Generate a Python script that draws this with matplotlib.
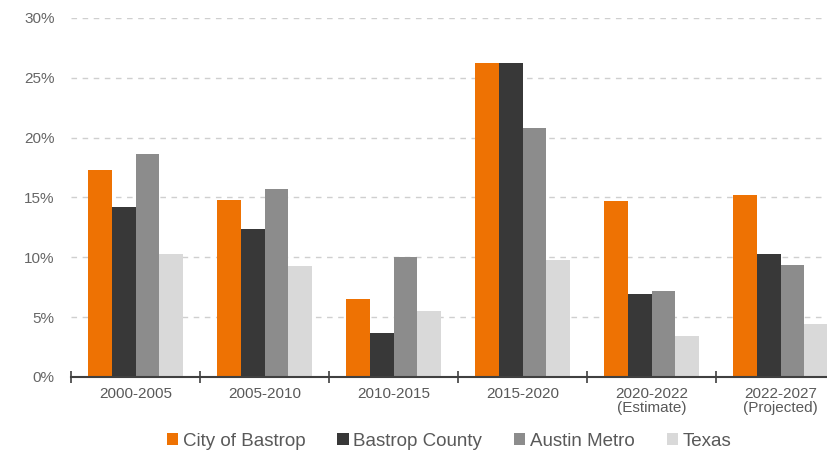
import numpy as np
import matplotlib.pyplot as plt
from matplotlib.ticker import FuncFormatter, FixedLocator

plt.rcParams['font.family'] = ['Liberation Sans', 'DejaVu Sans']

periods = ['2000-2005', '2005-2010', '2010-2015', '2015-2020',
           '2020-2022\n(Estimate)', '2022-2027\n(Projected)']
city = [17.3, 14.75, 6.5, 26.25, 14.7, 15.2]
county = [14.2, 12.4, 3.7, 26.25, 6.9, 10.25]
metro = [18.6, 15.7, 10.0, 20.8, 7.15, 9.35]
texas = [10.25, 9.3, 5.5, 9.75, 3.4, 4.4]

series = [('City of Bastrop', city, '#EE7203'),
          ('Bastrop County', county, '#383838'),
          ('Austin Metro', metro, '#8C8C8C'),
          ('Texas', texas, '#D9D9D9')]

fig = plt.figure(figsize=(8.27, 4.58), dpi=100)
ax = fig.add_axes([0.086, 0.177, 0.914, 0.784])

x = np.arange(len(periods))
w = 0.183
for i, (name, vals, col) in enumerate(series):
    ax.bar(x + (i - 1.5) * w, vals, w, color=col, label=name, zorder=3)

ax.set_ylim(0, 30)
ax.set_xlim(-0.5, 5.36)
ax.set_yticks(np.arange(0, 31, 5))
ax.yaxis.set_major_formatter(FuncFormatter(lambda v, p: f'{v:.0f}%'))
ax.grid(axis='y', color='#CFCFCF', linestyle=(0, (4, 4)), linewidth=1, zorder=0)
ax.tick_params(axis='y', length=0, labelsize=11, labelcolor='#666666', pad=12)

ax.xaxis.set_major_locator(FixedLocator(np.arange(-0.5, 6, 1)))
ax.xaxis.set_minor_locator(FixedLocator(x))
ax.set_xticklabels([], minor=False)
ax.set_xticklabels(periods, minor=True, linespacing=1.0)
ax.tick_params(axis='x', which='major', direction='inout', length=8, width=1.2, color='#404040')
ax.tick_params(axis='x', which='minor', length=0, labelsize=11, labelcolor='#595959', pad=7)

for s in ['top', 'right', 'left']:
    ax.spines[s].set_visible(False)
ax.spines['bottom'].set_color('#404040')
ax.spines['bottom'].set_linewidth(1.5)
ax.spines['bottom'].set_zorder(4)

fig.legend(loc='center', bbox_to_anchor=(0.543, 0.037), ncol=4, frameon=False,
           fontsize=13.5, handlelength=0.6, handleheight=0.6, handletextpad=0.25,
           columnspacing=1.7, labelcolor='#595959')

fig.savefig('out.png', dpi=100)
